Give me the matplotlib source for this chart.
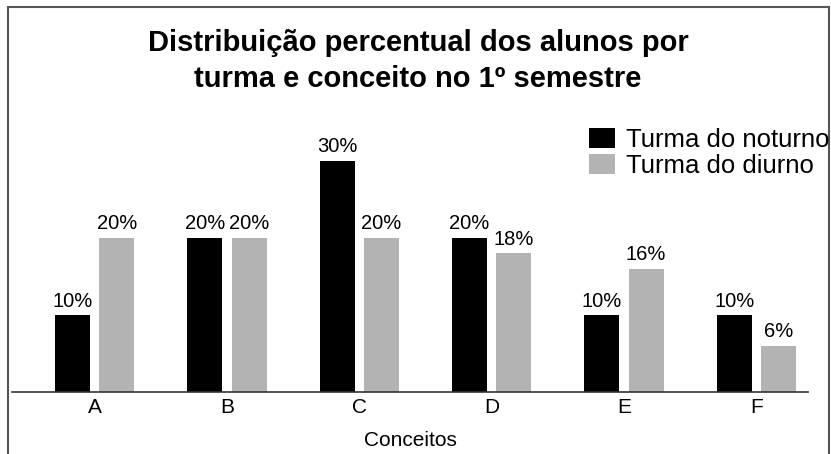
import numpy as np
import matplotlib
matplotlib.use('Agg')
import matplotlib.pyplot as plt
from matplotlib.patches import Rectangle

plt.rcParams['font.family'] = ['Liberation Sans', 'DejaVu Sans']

# dados
conceitos = ['A', 'B', 'C', 'D', 'E', 'F']
noturno = [10, 20, 30, 20, 10, 10]
diurno = [20, 20, 20, 18, 16, 6]
series_names = ['Turma do noturno', 'Turma do diurno']

fig = plt.figure(figsize=(8.31, 4.54), dpi=100)
W, H = 831, 454
# área do gráfico em pixels: esquerda 12, direita 808, base 392 (a partir do topo)
ax = fig.add_axes([12 / W, (H - 392) / H, 796 / W, 270 / H])

x = np.arange(len(conceitos))
w = 0.265
off = 0.167
b1 = ax.bar(x - off, noturno, w, color='black', label=series_names[0])
b2 = ax.bar(x + off, diurno, w, color='#b3b3b3', label=series_names[1])

for bars, vals in [(b1, noturno), (b2, diurno)]:
    for rect, v in zip(bars, vals):
        ax.text(rect.get_x() + rect.get_width() / 2, rect.get_height() + 0.55,
                f'{v}%', ha='center', va='bottom', fontsize=14.5)

ax.set_xlim(-0.625, 5.39)
ax.set_ylim(0, 35)
ax.set_yticks([])
ax.set_xticks(x)
ax.set_xticklabels(conceitos, fontsize=15)
ax.tick_params(axis='x', length=0, pad=4)
for s in ['top', 'right', 'left']:
    ax.spines[s].set_visible(False)
ax.spines['bottom'].set_color('#333333')
ax.spines['bottom'].set_linewidth(1.2)

fig.text(410 / W, 1 - 441 / H, 'Conceitos', ha='center', va='center', fontsize=15)

fig.text(418 / W, 1 - 61 / H,
         'Distribuição percentual dos alunos por\nturma e conceito no 1º semestre',
         ha='center', va='center', fontsize=21, fontweight='bold', linespacing=1.38)

leg = fig.legend(loc='upper left', bbox_to_anchor=(589 / W, 1 - 128 / H),
                 frameon=False, fontsize=18.5, handlelength=1.01, handleheight=0.78,
                 handletextpad=0.43, labelspacing=0.08, borderpad=0, borderaxespad=0)

# moldura da figura
fig.add_artist(Rectangle((8 / W, -0.05), (829 - 8) / W, 1.05 - 7 / H,
                         transform=fig.transFigure, fill=False,
                         edgecolor='#555555', linewidth=1.5))

fig.savefig('out.png', dpi=100)
